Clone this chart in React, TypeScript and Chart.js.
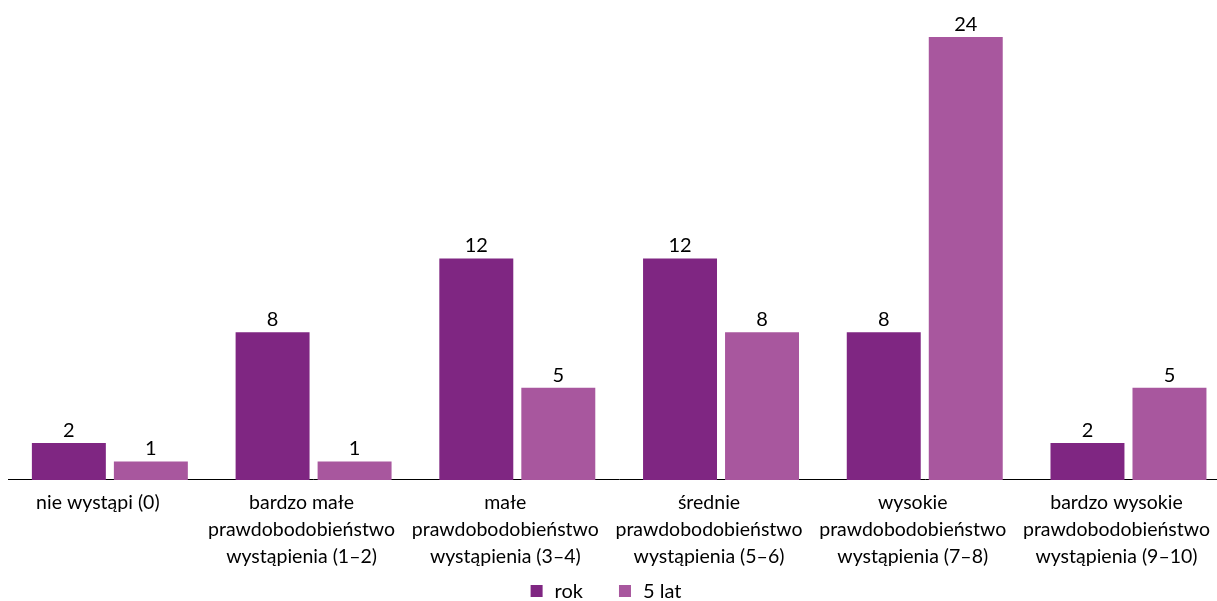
import React, { useEffect, useRef } from "react";
import { Chart, registerables } from "chart.js";

Chart.register(...registerables);

const categories: string[][] = [
  ["nie wystąpi (0)"],
  ["bardzo małe", "prawdobodobieństwo", "wystąpienia (1–2)"],
  ["małe", "prawdobodobieństwo", "wystąpienia (3–4)"],
  ["średnie", "prawdobodobieństwo", "wystąpienia (5–6)"],
  ["wysokie", "prawdobodobieństwo", "wystąpienia (7–8)"],
  ["bardzo wysokie", "prawdobodobieństwo", "wystąpienia (9–10)"],
];
const seriesNames = ["rok", "5 lat"];
const rokValues = [2, 8, 12, 12, 8, 2];
const lat5Values = [1, 1, 5, 8, 24, 5];
const colors = ["#7f2682", "#a8579e"];

const FONT = "Lato";
const VISIBLE_W = 1217;
const CANVAS_W = 1232;

const labelPlugin = {
  id: "valueLabels",
  afterDatasetsDraw(chart: any) {
    const ctx = chart.ctx;
    ctx.save();
    ctx.font = `20px ${FONT}`;
    ctx.fillStyle = "#000";
    ctx.textAlign = "center";
    ctx.textBaseline = "alphabetic";
    chart.data.datasets.forEach((ds: any, i: number) => {
      const meta = chart.getDatasetMeta(i);
      meta.data.forEach((bar: any, j: number) => {
        ctx.fillText(String(ds.data[j]), bar.x, bar.y - 6);
      });
    });
    ctx.restore();
  },
};

const legendPlugin = {
  id: "customLegend",
  afterDraw(chart: any) {
    const ctx = chart.ctx;
    ctx.save();
    ctx.font = `20px ${FONT}`;
    ctx.textBaseline = "middle";
    ctx.textAlign = "left";
    const box = 12;
    const gapText = 12;
    const gapItem = 36;
    const items = chart.data.datasets.map((ds: any) => ({
      label: ds.label,
      color: ds.backgroundColor,
      w: box + gapText + ctx.measureText(ds.label).width,
    }));
    const total = items.reduce((s: number, it: any) => s + it.w, 0) + gapItem * (items.length - 1);
    let x = 606 - total / 2;
    const cy = 591;
    items.forEach((it: any) => {
      ctx.fillStyle = it.color;
      ctx.fillRect(x, cy - box / 2, box, box);
      ctx.fillStyle = "#000";
      ctx.fillText(it.label, x + box + gapText, cy + 1);
      x += it.w + gapItem;
    });
    ctx.restore();
  },
};

export default function App() {
  const ref = useRef<HTMLCanvasElement>(null);
  useEffect(() => {
    if (!ref.current) return;
    const chart = new Chart(ref.current, {
      type: "bar",
      data: {
        labels: categories,
        datasets: [
          { label: seriesNames[0], data: rokValues, backgroundColor: colors[0] },
          { label: seriesNames[1], data: lat5Values, backgroundColor: colors[1] },
        ],
      },
      options: {
        animation: false,
        responsive: false,
        maintainAspectRatio: false,
        layout: { padding: { top: 37, left: 8, right: 0, bottom: 21.5 } },
        datasets: { bar: { categoryPercentage: 0.805, barPercentage: 0.902 } },
        scales: {
          x: {
            grid: { display: false, drawTicks: false },
            border: { display: true, color: "#000", width: 1 },
            ticks: {
              color: "#000",
              font: { family: FONT, size: 19.5, lineHeight: 1.36 },
              padding: 10,
              labelOffset: -12,
              maxRotation: 0,
              autoSkip: false,
            },
          },
          y: { display: false, min: 0, max: 24 },
        },
        plugins: {
          legend: { display: false },
          tooltip: { enabled: false },
        },
      },
      plugins: [labelPlugin, legendPlugin],
    });
    return () => chart.destroy();
  }, []);
  return (
    <div
      style={{
        position: "fixed",
        left: 0,
        top: 0,
        width: VISIBLE_W,
        height: 601,
        overflow: "hidden",
        background: "#fff",
      }}
    >
      <canvas ref={ref} width={CANVAS_W} height={601} />
    </div>
  );
}
